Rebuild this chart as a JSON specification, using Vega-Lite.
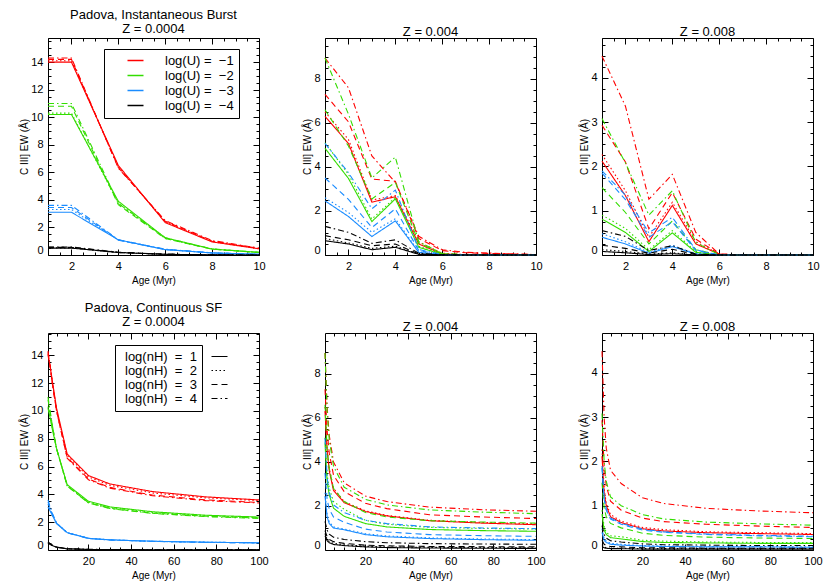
{
  "$schema": "https://vega.github.io/schema/vega-lite/v6.json",
  "background": "white",
  "padding": {"left": 19, "top": 8, "right": 5, "bottom": 5},
  "datasets": {
    "b1": [
      {"U":-1,"nH":1,"age":1,"ew":14.0},{"U":-1,"nH":1,"age":2,"ew":14.0},{"U":-1,"nH":1,"age":4,"ew":6.5},{"U":-1,"nH":1,"age":6,"ew":2.35},{"U":-1,"nH":1,"age":8,"ew":0.95},{"U":-1,"nH":1,"age":10,"ew":0.45},
      {"U":-1,"nH":2,"age":1,"ew":14.1},{"U":-1,"nH":2,"age":2,"ew":14.1},{"U":-1,"nH":2,"age":4,"ew":6.4},{"U":-1,"nH":2,"age":6,"ew":2.4},{"U":-1,"nH":2,"age":8,"ew":1.0},{"U":-1,"nH":2,"age":10,"ew":0.45},
      {"U":-1,"nH":3,"age":1,"ew":14.2},{"U":-1,"nH":3,"age":2,"ew":14.2},{"U":-1,"nH":3,"age":4,"ew":6.35},{"U":-1,"nH":3,"age":6,"ew":2.45},{"U":-1,"nH":3,"age":8,"ew":1.0},{"U":-1,"nH":3,"age":10,"ew":0.48},
      {"U":-1,"nH":4,"age":1,"ew":14.3},{"U":-1,"nH":4,"age":2,"ew":14.3},{"U":-1,"nH":4,"age":4,"ew":6.3},{"U":-1,"nH":4,"age":6,"ew":2.5},{"U":-1,"nH":4,"age":8,"ew":1.05},{"U":-1,"nH":4,"age":10,"ew":0.5},
      {"U":-2,"nH":1,"age":1,"ew":10.2},{"U":-2,"nH":1,"age":2,"ew":10.2},{"U":-2,"nH":1,"age":4,"ew":3.9},{"U":-2,"nH":1,"age":6,"ew":1.25},{"U":-2,"nH":1,"age":8,"ew":0.43},{"U":-2,"nH":1,"age":10,"ew":0.19},
      {"U":-2,"nH":2,"age":1,"ew":10.3},{"U":-2,"nH":2,"age":2,"ew":10.3},{"U":-2,"nH":2,"age":4,"ew":3.75},{"U":-2,"nH":2,"age":6,"ew":1.2},{"U":-2,"nH":2,"age":8,"ew":0.43},{"U":-2,"nH":2,"age":10,"ew":0.18},
      {"U":-2,"nH":3,"age":1,"ew":10.8},{"U":-2,"nH":3,"age":2,"ew":10.8},{"U":-2,"nH":3,"age":4,"ew":3.65},{"U":-2,"nH":3,"age":6,"ew":1.2},{"U":-2,"nH":3,"age":8,"ew":0.42},{"U":-2,"nH":3,"age":10,"ew":0.18},
      {"U":-2,"nH":4,"age":1,"ew":11.0},{"U":-2,"nH":4,"age":2,"ew":11.0},{"U":-2,"nH":4,"age":4,"ew":3.75},{"U":-2,"nH":4,"age":6,"ew":1.25},{"U":-2,"nH":4,"age":8,"ew":0.44},{"U":-2,"nH":4,"age":10,"ew":0.19},
      {"U":-3,"nH":1,"age":1,"ew":3.1},{"U":-3,"nH":1,"age":2,"ew":3.1},{"U":-3,"nH":1,"age":4,"ew":1.1},{"U":-3,"nH":1,"age":6,"ew":0.39},{"U":-3,"nH":1,"age":8,"ew":0.15},{"U":-3,"nH":1,"age":10,"ew":0.05},
      {"U":-3,"nH":2,"age":1,"ew":3.3},{"U":-3,"nH":2,"age":2,"ew":3.3},{"U":-3,"nH":2,"age":4,"ew":1.1},{"U":-3,"nH":2,"age":6,"ew":0.4},{"U":-3,"nH":2,"age":8,"ew":0.15},{"U":-3,"nH":2,"age":10,"ew":0.05},
      {"U":-3,"nH":3,"age":1,"ew":3.45},{"U":-3,"nH":3,"age":2,"ew":3.45},{"U":-3,"nH":3,"age":4,"ew":1.08},{"U":-3,"nH":3,"age":6,"ew":0.4},{"U":-3,"nH":3,"age":8,"ew":0.15},{"U":-3,"nH":3,"age":10,"ew":0.05},
      {"U":-3,"nH":4,"age":1,"ew":3.6},{"U":-3,"nH":4,"age":2,"ew":3.6},{"U":-3,"nH":4,"age":4,"ew":1.1},{"U":-3,"nH":4,"age":6,"ew":0.42},{"U":-3,"nH":4,"age":8,"ew":0.16},{"U":-3,"nH":4,"age":10,"ew":0.05},
      {"U":-4,"nH":1,"age":1,"ew":0.5},{"U":-4,"nH":1,"age":2,"ew":0.5},{"U":-4,"nH":1,"age":4,"ew":0.18},{"U":-4,"nH":1,"age":6,"ew":0.05},{"U":-4,"nH":1,"age":8,"ew":0.01},{"U":-4,"nH":1,"age":10,"ew":0},
      {"U":-4,"nH":2,"age":1,"ew":0.52},{"U":-4,"nH":2,"age":2,"ew":0.52},{"U":-4,"nH":2,"age":4,"ew":0.18},{"U":-4,"nH":2,"age":6,"ew":0.05},{"U":-4,"nH":2,"age":8,"ew":0.01},{"U":-4,"nH":2,"age":10,"ew":0},
      {"U":-4,"nH":3,"age":1,"ew":0.55},{"U":-4,"nH":3,"age":2,"ew":0.55},{"U":-4,"nH":3,"age":4,"ew":0.19},{"U":-4,"nH":3,"age":6,"ew":0.05},{"U":-4,"nH":3,"age":8,"ew":0.01},{"U":-4,"nH":3,"age":10,"ew":0},
      {"U":-4,"nH":4,"age":1,"ew":0.58},{"U":-4,"nH":4,"age":2,"ew":0.58},{"U":-4,"nH":4,"age":4,"ew":0.2},{"U":-4,"nH":4,"age":6,"ew":0.06},{"U":-4,"nH":4,"age":8,"ew":0.01},{"U":-4,"nH":4,"age":10,"ew":0}
    ],
    "b2": [
      {"U":-1,"nH":1,"age":1,"ew":6.3},{"U":-1,"nH":1,"age":2,"ew":5.07},{"U":-1,"nH":1,"age":3,"ew":2.4},{"U":-1,"nH":1,"age":4,"ew":2.65},{"U":-1,"nH":1,"age":5,"ew":0.5},{"U":-1,"nH":1,"age":6,"ew":0.05},{"U":-1,"nH":1,"age":7,"ew":0.01},{"U":-1,"nH":1,"age":10,"ew":0},
      {"U":-1,"nH":2,"age":1,"ew":6.5},{"U":-1,"nH":2,"age":2,"ew":5.25},{"U":-1,"nH":2,"age":3,"ew":2.5},{"U":-1,"nH":2,"age":4,"ew":2.7},{"U":-1,"nH":2,"age":5,"ew":0.6},{"U":-1,"nH":2,"age":6,"ew":0.08},{"U":-1,"nH":2,"age":7,"ew":0.02},{"U":-1,"nH":2,"age":10,"ew":0},
      {"U":-1,"nH":3,"age":1,"ew":7.3},{"U":-1,"nH":3,"age":2,"ew":6.05},{"U":-1,"nH":3,"age":3,"ew":3.45},{"U":-1,"nH":3,"age":4,"ew":3.35},{"U":-1,"nH":3,"age":5,"ew":0.75},{"U":-1,"nH":3,"age":6,"ew":0.2},{"U":-1,"nH":3,"age":7,"ew":0.1},{"U":-1,"nH":3,"age":10,"ew":0.02},
      {"U":-1,"nH":4,"age":1,"ew":8.95},{"U":-1,"nH":4,"age":2,"ew":7.6},{"U":-1,"nH":4,"age":3,"ew":4.5},{"U":-1,"nH":4,"age":4,"ew":3.3},{"U":-1,"nH":4,"age":5,"ew":0.85},{"U":-1,"nH":4,"age":6,"ew":0.24},{"U":-1,"nH":4,"age":7,"ew":0.12},{"U":-1,"nH":4,"age":10,"ew":0.02},
      {"U":-2,"nH":1,"age":1,"ew":4.85},{"U":-2,"nH":1,"age":2,"ew":3.48},{"U":-2,"nH":1,"age":3,"ew":1.52},{"U":-2,"nH":1,"age":4,"ew":2.55},{"U":-2,"nH":1,"age":5,"ew":0.35},{"U":-2,"nH":1,"age":6,"ew":0.03},{"U":-2,"nH":1,"age":7,"ew":0},{"U":-2,"nH":1,"age":10,"ew":0},
      {"U":-2,"nH":2,"age":1,"ew":5.1},{"U":-2,"nH":2,"age":2,"ew":3.67},{"U":-2,"nH":2,"age":3,"ew":1.63},{"U":-2,"nH":2,"age":4,"ew":2.62},{"U":-2,"nH":2,"age":5,"ew":0.4},{"U":-2,"nH":2,"age":6,"ew":0.04},{"U":-2,"nH":2,"age":7,"ew":0},{"U":-2,"nH":2,"age":10,"ew":0},
      {"U":-2,"nH":3,"age":1,"ew":6.6},{"U":-2,"nH":3,"age":2,"ew":4.95},{"U":-2,"nH":3,"age":3,"ew":2.55},{"U":-2,"nH":3,"age":4,"ew":3.3},{"U":-2,"nH":3,"age":5,"ew":0.55},{"U":-2,"nH":3,"age":6,"ew":0.06},{"U":-2,"nH":3,"age":7,"ew":0.01},{"U":-2,"nH":3,"age":10,"ew":0},
      {"U":-2,"nH":4,"age":1,"ew":8.95},{"U":-2,"nH":4,"age":2,"ew":6.4},{"U":-2,"nH":4,"age":3,"ew":3.5},{"U":-2,"nH":4,"age":4,"ew":4.45},{"U":-2,"nH":4,"age":5,"ew":0.6},{"U":-2,"nH":4,"age":6,"ew":0.07},{"U":-2,"nH":4,"age":7,"ew":0.01},{"U":-2,"nH":4,"age":10,"ew":0},
      {"U":-3,"nH":1,"age":1,"ew":2.46},{"U":-3,"nH":1,"age":2,"ew":1.75},{"U":-3,"nH":1,"age":3,"ew":0.84},{"U":-3,"nH":1,"age":4,"ew":1.55},{"U":-3,"nH":1,"age":5,"ew":0.12},{"U":-3,"nH":1,"age":6,"ew":0},{"U":-3,"nH":1,"age":7,"ew":0},{"U":-3,"nH":1,"age":10,"ew":0},
      {"U":-3,"nH":2,"age":1,"ew":2.6},{"U":-3,"nH":2,"age":2,"ew":1.93},{"U":-3,"nH":2,"age":3,"ew":1.03},{"U":-3,"nH":2,"age":4,"ew":1.65},{"U":-3,"nH":2,"age":5,"ew":0.15},{"U":-3,"nH":2,"age":6,"ew":0.01},{"U":-3,"nH":2,"age":7,"ew":0},{"U":-3,"nH":2,"age":10,"ew":0},
      {"U":-3,"nH":3,"age":1,"ew":3.5},{"U":-3,"nH":3,"age":2,"ew":2.53},{"U":-3,"nH":3,"age":3,"ew":1.25},{"U":-3,"nH":3,"age":4,"ew":2.1},{"U":-3,"nH":3,"age":5,"ew":0.2},{"U":-3,"nH":3,"age":6,"ew":0.01},{"U":-3,"nH":3,"age":7,"ew":0},{"U":-3,"nH":3,"age":10,"ew":0},
      {"U":-3,"nH":4,"age":1,"ew":5.07},{"U":-3,"nH":4,"age":2,"ew":3.74},{"U":-3,"nH":4,"age":3,"ew":2.1},{"U":-3,"nH":4,"age":4,"ew":2.95},{"U":-3,"nH":4,"age":5,"ew":0.25},{"U":-3,"nH":4,"age":6,"ew":0.02},{"U":-3,"nH":4,"age":7,"ew":0},{"U":-3,"nH":4,"age":10,"ew":0},
      {"U":-4,"nH":1,"age":1,"ew":0.65},{"U":-4,"nH":1,"age":2,"ew":0.5},{"U":-4,"nH":1,"age":3,"ew":0.24},{"U":-4,"nH":1,"age":4,"ew":0.35},{"U":-4,"nH":1,"age":5,"ew":0.03},{"U":-4,"nH":1,"age":6,"ew":0},{"U":-4,"nH":1,"age":7,"ew":0},{"U":-4,"nH":1,"age":10,"ew":0},
      {"U":-4,"nH":2,"age":1,"ew":0.75},{"U":-4,"nH":2,"age":2,"ew":0.55},{"U":-4,"nH":2,"age":3,"ew":0.3},{"U":-4,"nH":2,"age":4,"ew":0.4},{"U":-4,"nH":2,"age":5,"ew":0.04},{"U":-4,"nH":2,"age":6,"ew":0},{"U":-4,"nH":2,"age":7,"ew":0},{"U":-4,"nH":2,"age":10,"ew":0},
      {"U":-4,"nH":3,"age":1,"ew":0.88},{"U":-4,"nH":3,"age":2,"ew":0.69},{"U":-4,"nH":3,"age":3,"ew":0.42},{"U":-4,"nH":3,"age":4,"ew":0.5},{"U":-4,"nH":3,"age":5,"ew":0.05},{"U":-4,"nH":3,"age":6,"ew":0},{"U":-4,"nH":3,"age":7,"ew":0},{"U":-4,"nH":3,"age":10,"ew":0},
      {"U":-4,"nH":4,"age":1,"ew":1.3},{"U":-4,"nH":4,"age":2,"ew":1.03},{"U":-4,"nH":4,"age":3,"ew":0.53},{"U":-4,"nH":4,"age":4,"ew":0.69},{"U":-4,"nH":4,"age":5,"ew":0.08},{"U":-4,"nH":4,"age":6,"ew":0.01},{"U":-4,"nH":4,"age":7,"ew":0},{"U":-4,"nH":4,"age":10,"ew":0}
    ],
    "b3": [
      {"U":-1,"nH":1,"age":1,"ew":2.12},{"U":-1,"nH":1,"age":2,"ew":1.34},{"U":-1,"nH":1,"age":3,"ew":0.3},{"U":-1,"nH":1,"age":4,"ew":1.12},{"U":-1,"nH":1,"age":5,"ew":0.25},{"U":-1,"nH":1,"age":6,"ew":0.02},{"U":-1,"nH":1,"age":7,"ew":0},{"U":-1,"nH":1,"age":10,"ew":0},
      {"U":-1,"nH":2,"age":1,"ew":2.27},{"U":-1,"nH":2,"age":2,"ew":1.45},{"U":-1,"nH":2,"age":3,"ew":0.4},{"U":-1,"nH":2,"age":4,"ew":1.19},{"U":-1,"nH":2,"age":5,"ew":0.3},{"U":-1,"nH":2,"age":6,"ew":0.02},{"U":-1,"nH":2,"age":7,"ew":0},{"U":-1,"nH":2,"age":10,"ew":0},
      {"U":-1,"nH":3,"age":1,"ew":2.93},{"U":-1,"nH":3,"age":2,"ew":2.1},{"U":-1,"nH":3,"age":3,"ew":0.59},{"U":-1,"nH":3,"age":4,"ew":1.41},{"U":-1,"nH":3,"age":5,"ew":0.36},{"U":-1,"nH":3,"age":6,"ew":0.02},{"U":-1,"nH":3,"age":7,"ew":0},{"U":-1,"nH":3,"age":10,"ew":0},
      {"U":-1,"nH":4,"age":1,"ew":4.49},{"U":-1,"nH":4,"age":2,"ew":3.36},{"U":-1,"nH":4,"age":3,"ew":1.26},{"U":-1,"nH":4,"age":4,"ew":1.82},{"U":-1,"nH":4,"age":5,"ew":0.51},{"U":-1,"nH":4,"age":6,"ew":0.02},{"U":-1,"nH":4,"age":7,"ew":0},{"U":-1,"nH":4,"age":10,"ew":0},
      {"U":-2,"nH":1,"age":1,"ew":0.81},{"U":-2,"nH":1,"age":2,"ew":0.51},{"U":-2,"nH":1,"age":3,"ew":0.08},{"U":-2,"nH":1,"age":4,"ew":0.5},{"U":-2,"nH":1,"age":5,"ew":0.06},{"U":-2,"nH":1,"age":6,"ew":0},{"U":-2,"nH":1,"age":7,"ew":0},{"U":-2,"nH":1,"age":10,"ew":0},
      {"U":-2,"nH":2,"age":1,"ew":0.9},{"U":-2,"nH":2,"age":2,"ew":0.6},{"U":-2,"nH":2,"age":3,"ew":0.12},{"U":-2,"nH":2,"age":4,"ew":0.55},{"U":-2,"nH":2,"age":5,"ew":0.08},{"U":-2,"nH":2,"age":6,"ew":0},{"U":-2,"nH":2,"age":7,"ew":0},{"U":-2,"nH":2,"age":10,"ew":0},
      {"U":-2,"nH":3,"age":1,"ew":1.52},{"U":-2,"nH":3,"age":2,"ew":0.96},{"U":-2,"nH":3,"age":3,"ew":0.25},{"U":-2,"nH":3,"age":4,"ew":0.77},{"U":-2,"nH":3,"age":5,"ew":0.12},{"U":-2,"nH":3,"age":6,"ew":0},{"U":-2,"nH":3,"age":7,"ew":0},{"U":-2,"nH":3,"age":10,"ew":0},
      {"U":-2,"nH":4,"age":1,"ew":3.08},{"U":-2,"nH":4,"age":2,"ew":2.08},{"U":-2,"nH":4,"age":3,"ew":0.9},{"U":-2,"nH":4,"age":4,"ew":1.45},{"U":-2,"nH":4,"age":5,"ew":0.28},{"U":-2,"nH":4,"age":6,"ew":0.01},{"U":-2,"nH":4,"age":7,"ew":0},{"U":-2,"nH":4,"age":10,"ew":0},
      {"U":-3,"nH":1,"age":1,"ew":0.4},{"U":-3,"nH":1,"age":2,"ew":0.25},{"U":-3,"nH":1,"age":3,"ew":0.04},{"U":-3,"nH":1,"age":4,"ew":0.19},{"U":-3,"nH":1,"age":5,"ew":0.02},{"U":-3,"nH":1,"age":6,"ew":0},{"U":-3,"nH":1,"age":7,"ew":0},{"U":-3,"nH":1,"age":10,"ew":0},
      {"U":-3,"nH":2,"age":1,"ew":0.48},{"U":-3,"nH":2,"age":2,"ew":0.3},{"U":-3,"nH":2,"age":3,"ew":0.06},{"U":-3,"nH":2,"age":4,"ew":0.22},{"U":-3,"nH":2,"age":5,"ew":0.03},{"U":-3,"nH":2,"age":6,"ew":0},{"U":-3,"nH":2,"age":7,"ew":0},{"U":-3,"nH":2,"age":10,"ew":0},
      {"U":-3,"nH":3,"age":1,"ew":1.85},{"U":-3,"nH":3,"age":2,"ew":1.25},{"U":-3,"nH":3,"age":3,"ew":0.4},{"U":-3,"nH":3,"age":4,"ew":0.75},{"U":-3,"nH":3,"age":5,"ew":0.1},{"U":-3,"nH":3,"age":6,"ew":0},{"U":-3,"nH":3,"age":7,"ew":0},{"U":-3,"nH":3,"age":10,"ew":0},
      {"U":-3,"nH":4,"age":1,"ew":1.9},{"U":-3,"nH":4,"age":2,"ew":1.35},{"U":-3,"nH":4,"age":3,"ew":0.5},{"U":-3,"nH":4,"age":4,"ew":0.85},{"U":-3,"nH":4,"age":5,"ew":0.12},{"U":-3,"nH":4,"age":6,"ew":0},{"U":-3,"nH":4,"age":7,"ew":0},{"U":-3,"nH":4,"age":10,"ew":0},
      {"U":-4,"nH":1,"age":1,"ew":0.08},{"U":-4,"nH":1,"age":2,"ew":0.05},{"U":-4,"nH":1,"age":3,"ew":0.01},{"U":-4,"nH":1,"age":4,"ew":0.03},{"U":-4,"nH":1,"age":5,"ew":0},{"U":-4,"nH":1,"age":6,"ew":0},{"U":-4,"nH":1,"age":7,"ew":0},{"U":-4,"nH":1,"age":10,"ew":0},
      {"U":-4,"nH":2,"age":1,"ew":0.12},{"U":-4,"nH":2,"age":2,"ew":0.08},{"U":-4,"nH":2,"age":3,"ew":0.02},{"U":-4,"nH":2,"age":4,"ew":0.05},{"U":-4,"nH":2,"age":5,"ew":0},{"U":-4,"nH":2,"age":6,"ew":0},{"U":-4,"nH":2,"age":7,"ew":0},{"U":-4,"nH":2,"age":10,"ew":0},
      {"U":-4,"nH":3,"age":1,"ew":0.22},{"U":-4,"nH":3,"age":2,"ew":0.15},{"U":-4,"nH":3,"age":3,"ew":0.04},{"U":-4,"nH":3,"age":4,"ew":0.13},{"U":-4,"nH":3,"age":5,"ew":0.01},{"U":-4,"nH":3,"age":6,"ew":0},{"U":-4,"nH":3,"age":7,"ew":0},{"U":-4,"nH":3,"age":10,"ew":0},
      {"U":-4,"nH":4,"age":1,"ew":0.55},{"U":-4,"nH":4,"age":2,"ew":0.42},{"U":-4,"nH":4,"age":3,"ew":0.1},{"U":-4,"nH":4,"age":4,"ew":0.21},{"U":-4,"nH":4,"age":5,"ew":0.02},{"U":-4,"nH":4,"age":6,"ew":0},{"U":-4,"nH":4,"age":7,"ew":0},{"U":-4,"nH":4,"age":10,"ew":0}
    ],
    "c1": [
      {"U":-1,"nH":1,"age":1,"ew":14.0},{"U":-1,"nH":1,"age":2,"ew":13.2},{"U":-1,"nH":1,"age":3,"ew":12.2},{"U":-1,"nH":1,"age":5,"ew":10.2},{"U":-1,"nH":1,"age":10,"ew":6.9},{"U":-1,"nH":1,"age":20,"ew":5.35},{"U":-1,"nH":1,"age":30,"ew":4.75},{"U":-1,"nH":1,"age":50,"ew":4.2},{"U":-1,"nH":1,"age":75,"ew":3.82},{"U":-1,"nH":1,"age":100,"ew":3.6},
      {"U":-1,"nH":2,"age":1,"ew":14.1},{"U":-1,"nH":2,"age":2,"ew":13.2},{"U":-1,"nH":2,"age":3,"ew":12.1},{"U":-1,"nH":2,"age":5,"ew":10.1},{"U":-1,"nH":2,"age":10,"ew":6.8},{"U":-1,"nH":2,"age":20,"ew":5.25},{"U":-1,"nH":2,"age":30,"ew":4.65},{"U":-1,"nH":2,"age":50,"ew":4.1},{"U":-1,"nH":2,"age":75,"ew":3.75},{"U":-1,"nH":2,"age":100,"ew":3.55},
      {"U":-1,"nH":3,"age":1,"ew":14.2},{"U":-1,"nH":3,"age":2,"ew":13.2},{"U":-1,"nH":3,"age":3,"ew":12.0},{"U":-1,"nH":3,"age":5,"ew":10.0},{"U":-1,"nH":3,"age":10,"ew":6.65},{"U":-1,"nH":3,"age":20,"ew":5.1},{"U":-1,"nH":3,"age":30,"ew":4.5},{"U":-1,"nH":3,"age":50,"ew":3.95},{"U":-1,"nH":3,"age":75,"ew":3.6},{"U":-1,"nH":3,"age":100,"ew":3.42},
      {"U":-1,"nH":4,"age":1,"ew":14.3},{"U":-1,"nH":4,"age":2,"ew":13.3},{"U":-1,"nH":4,"age":3,"ew":12.0},{"U":-1,"nH":4,"age":5,"ew":10.0},{"U":-1,"nH":4,"age":10,"ew":6.6},{"U":-1,"nH":4,"age":20,"ew":5.05},{"U":-1,"nH":4,"age":30,"ew":4.45},{"U":-1,"nH":4,"age":50,"ew":3.9},{"U":-1,"nH":4,"age":75,"ew":3.55},{"U":-1,"nH":4,"age":100,"ew":3.38},
      {"U":-2,"nH":1,"age":1,"ew":10.2},{"U":-2,"nH":1,"age":2,"ew":9.5},{"U":-2,"nH":1,"age":3,"ew":8.7},{"U":-2,"nH":1,"age":5,"ew":7.3},{"U":-2,"nH":1,"age":10,"ew":4.7},{"U":-2,"nH":1,"age":20,"ew":3.5},{"U":-2,"nH":1,"age":30,"ew":3.1},{"U":-2,"nH":1,"age":50,"ew":2.75},{"U":-2,"nH":1,"age":75,"ew":2.5},{"U":-2,"nH":1,"age":100,"ew":2.37},
      {"U":-2,"nH":2,"age":1,"ew":10.3},{"U":-2,"nH":2,"age":2,"ew":9.6},{"U":-2,"nH":2,"age":3,"ew":8.8},{"U":-2,"nH":2,"age":5,"ew":7.3},{"U":-2,"nH":2,"age":10,"ew":4.65},{"U":-2,"nH":2,"age":20,"ew":3.45},{"U":-2,"nH":2,"age":30,"ew":3.05},{"U":-2,"nH":2,"age":50,"ew":2.7},{"U":-2,"nH":2,"age":75,"ew":2.47},{"U":-2,"nH":2,"age":100,"ew":2.33},
      {"U":-2,"nH":3,"age":1,"ew":10.8},{"U":-2,"nH":3,"age":2,"ew":9.9},{"U":-2,"nH":3,"age":3,"ew":9.0},{"U":-2,"nH":3,"age":5,"ew":7.3},{"U":-2,"nH":3,"age":10,"ew":4.6},{"U":-2,"nH":3,"age":20,"ew":3.4},{"U":-2,"nH":3,"age":30,"ew":3.0},{"U":-2,"nH":3,"age":50,"ew":2.65},{"U":-2,"nH":3,"age":75,"ew":2.43},{"U":-2,"nH":3,"age":100,"ew":2.3},
      {"U":-2,"nH":4,"age":1,"ew":11.0},{"U":-2,"nH":4,"age":2,"ew":10.0},{"U":-2,"nH":4,"age":3,"ew":9.0},{"U":-2,"nH":4,"age":5,"ew":7.3},{"U":-2,"nH":4,"age":10,"ew":4.6},{"U":-2,"nH":4,"age":20,"ew":3.38},{"U":-2,"nH":4,"age":30,"ew":2.98},{"U":-2,"nH":4,"age":50,"ew":2.63},{"U":-2,"nH":4,"age":75,"ew":2.4},{"U":-2,"nH":4,"age":100,"ew":2.27},
      {"U":-3,"nH":1,"age":1,"ew":3.1},{"U":-3,"nH":1,"age":2,"ew":2.8},{"U":-3,"nH":1,"age":3,"ew":2.5},{"U":-3,"nH":1,"age":5,"ew":1.9},{"U":-3,"nH":1,"age":10,"ew":1.25},{"U":-3,"nH":1,"age":20,"ew":0.84},{"U":-3,"nH":1,"age":30,"ew":0.73},{"U":-3,"nH":1,"age":50,"ew":0.63},{"U":-3,"nH":1,"age":75,"ew":0.56},{"U":-3,"nH":1,"age":100,"ew":0.52},
      {"U":-3,"nH":2,"age":1,"ew":3.3},{"U":-3,"nH":2,"age":2,"ew":2.9},{"U":-3,"nH":2,"age":3,"ew":2.55},{"U":-3,"nH":2,"age":5,"ew":1.92},{"U":-3,"nH":2,"age":10,"ew":1.25},{"U":-3,"nH":2,"age":20,"ew":0.84},{"U":-3,"nH":2,"age":30,"ew":0.73},{"U":-3,"nH":2,"age":50,"ew":0.63},{"U":-3,"nH":2,"age":75,"ew":0.56},{"U":-3,"nH":2,"age":100,"ew":0.52},
      {"U":-3,"nH":3,"age":1,"ew":3.45},{"U":-3,"nH":3,"age":2,"ew":3.0},{"U":-3,"nH":3,"age":3,"ew":2.6},{"U":-3,"nH":3,"age":5,"ew":1.93},{"U":-3,"nH":3,"age":10,"ew":1.24},{"U":-3,"nH":3,"age":20,"ew":0.83},{"U":-3,"nH":3,"age":30,"ew":0.72},{"U":-3,"nH":3,"age":50,"ew":0.62},{"U":-3,"nH":3,"age":75,"ew":0.55},{"U":-3,"nH":3,"age":100,"ew":0.51},
      {"U":-3,"nH":4,"age":1,"ew":3.6},{"U":-3,"nH":4,"age":2,"ew":3.1},{"U":-3,"nH":4,"age":3,"ew":2.65},{"U":-3,"nH":4,"age":5,"ew":1.95},{"U":-3,"nH":4,"age":10,"ew":1.24},{"U":-3,"nH":4,"age":20,"ew":0.83},{"U":-3,"nH":4,"age":30,"ew":0.72},{"U":-3,"nH":4,"age":50,"ew":0.62},{"U":-3,"nH":4,"age":75,"ew":0.55},{"U":-3,"nH":4,"age":100,"ew":0.51},
      {"U":-4,"nH":1,"age":1,"ew":0.5},{"U":-4,"nH":1,"age":2,"ew":0.4},{"U":-4,"nH":1,"age":3,"ew":0.32},{"U":-4,"nH":1,"age":5,"ew":0.2},{"U":-4,"nH":1,"age":10,"ew":0.08},{"U":-4,"nH":1,"age":20,"ew":0.04},{"U":-4,"nH":1,"age":30,"ew":0.03},{"U":-4,"nH":1,"age":50,"ew":0.02},{"U":-4,"nH":1,"age":75,"ew":0.02},{"U":-4,"nH":1,"age":100,"ew":0.02},
      {"U":-4,"nH":2,"age":1,"ew":0.52},{"U":-4,"nH":2,"age":2,"ew":0.41},{"U":-4,"nH":2,"age":3,"ew":0.33},{"U":-4,"nH":2,"age":5,"ew":0.2},{"U":-4,"nH":2,"age":10,"ew":0.08},{"U":-4,"nH":2,"age":20,"ew":0.04},{"U":-4,"nH":2,"age":30,"ew":0.03},{"U":-4,"nH":2,"age":50,"ew":0.02},{"U":-4,"nH":2,"age":75,"ew":0.02},{"U":-4,"nH":2,"age":100,"ew":0.02},
      {"U":-4,"nH":3,"age":1,"ew":0.55},{"U":-4,"nH":3,"age":2,"ew":0.43},{"U":-4,"nH":3,"age":3,"ew":0.34},{"U":-4,"nH":3,"age":5,"ew":0.21},{"U":-4,"nH":3,"age":10,"ew":0.09},{"U":-4,"nH":3,"age":20,"ew":0.04},{"U":-4,"nH":3,"age":30,"ew":0.03},{"U":-4,"nH":3,"age":50,"ew":0.02},{"U":-4,"nH":3,"age":75,"ew":0.02},{"U":-4,"nH":3,"age":100,"ew":0.02},
      {"U":-4,"nH":4,"age":1,"ew":0.58},{"U":-4,"nH":4,"age":2,"ew":0.45},{"U":-4,"nH":4,"age":3,"ew":0.35},{"U":-4,"nH":4,"age":5,"ew":0.22},{"U":-4,"nH":4,"age":10,"ew":0.09},{"U":-4,"nH":4,"age":20,"ew":0.05},{"U":-4,"nH":4,"age":30,"ew":0.03},{"U":-4,"nH":4,"age":50,"ew":0.02},{"U":-4,"nH":4,"age":75,"ew":0.02},{"U":-4,"nH":4,"age":100,"ew":0.02}
    ],
    "c2": [
      {"U":-1,"nH":1,"age":1,"ew":6.3},{"U":-1,"nH":1,"age":2,"ew":4.5},{"U":-1,"nH":1,"age":3,"ew":3.6},{"U":-1,"nH":1,"age":5,"ew":2.7},{"U":-1,"nH":1,"age":10,"ew":2.15},{"U":-1,"nH":1,"age":20,"ew":1.75},{"U":-1,"nH":1,"age":30,"ew":1.55},{"U":-1,"nH":1,"age":50,"ew":1.33},{"U":-1,"nH":1,"age":75,"ew":1.22},{"U":-1,"nH":1,"age":100,"ew":1.15},
      {"U":-1,"nH":2,"age":1,"ew":6.5},{"U":-1,"nH":2,"age":2,"ew":4.6},{"U":-1,"nH":2,"age":3,"ew":3.7},{"U":-1,"nH":2,"age":5,"ew":2.8},{"U":-1,"nH":2,"age":10,"ew":2.2},{"U":-1,"nH":2,"age":20,"ew":1.78},{"U":-1,"nH":2,"age":30,"ew":1.57},{"U":-1,"nH":2,"age":50,"ew":1.35},{"U":-1,"nH":2,"age":75,"ew":1.25},{"U":-1,"nH":2,"age":100,"ew":1.19},
      {"U":-1,"nH":3,"age":1,"ew":7.3},{"U":-1,"nH":3,"age":2,"ew":5.4},{"U":-1,"nH":3,"age":3,"ew":4.4},{"U":-1,"nH":3,"age":5,"ew":3.4},{"U":-1,"nH":3,"age":10,"ew":2.65},{"U":-1,"nH":3,"age":20,"ew":2.12},{"U":-1,"nH":3,"age":30,"ew":1.88},{"U":-1,"nH":3,"age":50,"ew":1.6},{"U":-1,"nH":3,"age":75,"ew":1.5},{"U":-1,"nH":3,"age":100,"ew":1.43},
      {"U":-1,"nH":4,"age":1,"ew":8.95},{"U":-1,"nH":4,"age":2,"ew":6.5},{"U":-1,"nH":4,"age":3,"ew":5.2},{"U":-1,"nH":4,"age":5,"ew":4.0},{"U":-1,"nH":4,"age":10,"ew":3.05},{"U":-1,"nH":4,"age":20,"ew":2.45},{"U":-1,"nH":4,"age":30,"ew":2.2},{"U":-1,"nH":4,"age":50,"ew":1.95},{"U":-1,"nH":4,"age":75,"ew":1.83},{"U":-1,"nH":4,"age":100,"ew":1.76},
      {"U":-2,"nH":1,"age":1,"ew":4.85},{"U":-2,"nH":1,"age":2,"ew":3.1},{"U":-2,"nH":1,"age":3,"ew":2.5},{"U":-2,"nH":1,"age":5,"ew":1.9},{"U":-2,"nH":1,"age":10,"ew":1.53},{"U":-2,"nH":1,"age":20,"ew":1.2},{"U":-2,"nH":1,"age":30,"ew":1.05},{"U":-2,"nH":1,"age":50,"ew":0.93},{"U":-2,"nH":1,"age":75,"ew":0.88},{"U":-2,"nH":1,"age":100,"ew":0.85},
      {"U":-2,"nH":2,"age":1,"ew":5.1},{"U":-2,"nH":2,"age":2,"ew":3.4},{"U":-2,"nH":2,"age":3,"ew":2.8},{"U":-2,"nH":2,"age":5,"ew":2.2},{"U":-2,"nH":2,"age":10,"ew":1.85},{"U":-2,"nH":2,"age":20,"ew":1.35},{"U":-2,"nH":2,"age":30,"ew":1.17},{"U":-2,"nH":2,"age":50,"ew":1.03},{"U":-2,"nH":2,"age":75,"ew":0.98},{"U":-2,"nH":2,"age":100,"ew":0.95},
      {"U":-2,"nH":3,"age":1,"ew":6.6},{"U":-2,"nH":3,"age":2,"ew":4.6},{"U":-2,"nH":3,"age":3,"ew":3.7},{"U":-2,"nH":3,"age":5,"ew":2.8},{"U":-2,"nH":3,"age":10,"ew":2.2},{"U":-2,"nH":3,"age":20,"ew":1.7},{"U":-2,"nH":3,"age":30,"ew":1.5},{"U":-2,"nH":3,"age":50,"ew":1.33},{"U":-2,"nH":3,"age":75,"ew":1.27},{"U":-2,"nH":3,"age":100,"ew":1.22},
      {"U":-2,"nH":4,"age":1,"ew":8.95},{"U":-2,"nH":4,"age":2,"ew":6.3},{"U":-2,"nH":4,"age":3,"ew":5.0},{"U":-2,"nH":4,"age":5,"ew":3.8},{"U":-2,"nH":4,"age":10,"ew":2.85},{"U":-2,"nH":4,"age":20,"ew":2.3},{"U":-2,"nH":4,"age":30,"ew":2.05},{"U":-2,"nH":4,"age":50,"ew":1.82},{"U":-2,"nH":4,"age":75,"ew":1.72},{"U":-2,"nH":4,"age":100,"ew":1.65},
      {"U":-3,"nH":1,"age":1,"ew":2.46},{"U":-3,"nH":1,"age":2,"ew":1.5},{"U":-3,"nH":1,"age":3,"ew":1.2},{"U":-3,"nH":1,"age":5,"ew":1.0},{"U":-3,"nH":1,"age":10,"ew":0.92},{"U":-3,"nH":1,"age":20,"ew":0.7},{"U":-3,"nH":1,"age":30,"ew":0.6},{"U":-3,"nH":1,"age":50,"ew":0.52},{"U":-3,"nH":1,"age":75,"ew":0.47},{"U":-3,"nH":1,"age":100,"ew":0.44},
      {"U":-3,"nH":2,"age":1,"ew":2.6},{"U":-3,"nH":2,"age":2,"ew":1.6},{"U":-3,"nH":2,"age":3,"ew":1.28},{"U":-3,"nH":2,"age":5,"ew":1.05},{"U":-3,"nH":2,"age":10,"ew":0.95},{"U":-3,"nH":2,"age":20,"ew":0.74},{"U":-3,"nH":2,"age":30,"ew":0.64},{"U":-3,"nH":2,"age":50,"ew":0.55},{"U":-3,"nH":2,"age":75,"ew":0.5},{"U":-3,"nH":2,"age":100,"ew":0.47},
      {"U":-3,"nH":3,"age":1,"ew":3.5},{"U":-3,"nH":3,"age":2,"ew":2.3},{"U":-3,"nH":3,"age":3,"ew":1.85},{"U":-3,"nH":3,"age":5,"ew":1.5},{"U":-3,"nH":3,"age":10,"ew":1.26},{"U":-3,"nH":3,"age":20,"ew":0.95},{"U":-3,"nH":3,"age":30,"ew":0.82},{"U":-3,"nH":3,"age":50,"ew":0.7},{"U":-3,"nH":3,"age":75,"ew":0.65},{"U":-3,"nH":3,"age":100,"ew":0.62},
      {"U":-3,"nH":4,"age":1,"ew":5.07},{"U":-3,"nH":4,"age":2,"ew":3.3},{"U":-3,"nH":4,"age":3,"ew":2.6},{"U":-3,"nH":4,"age":5,"ew":2.05},{"U":-3,"nH":4,"age":10,"ew":1.7},{"U":-3,"nH":4,"age":20,"ew":1.35},{"U":-3,"nH":4,"age":30,"ew":1.2},{"U":-3,"nH":4,"age":50,"ew":1.05},{"U":-3,"nH":4,"age":75,"ew":1.0},{"U":-3,"nH":4,"age":100,"ew":0.97},
      {"U":-4,"nH":1,"age":1,"ew":0.65},{"U":-4,"nH":1,"age":2,"ew":0.42},{"U":-4,"nH":1,"age":3,"ew":0.33},{"U":-4,"nH":1,"age":5,"ew":0.25},{"U":-4,"nH":1,"age":10,"ew":0.2},{"U":-4,"nH":1,"age":20,"ew":0.14},{"U":-4,"nH":1,"age":30,"ew":0.11},{"U":-4,"nH":1,"age":50,"ew":0.09},{"U":-4,"nH":1,"age":75,"ew":0.08},{"U":-4,"nH":1,"age":100,"ew":0.07},
      {"U":-4,"nH":2,"age":1,"ew":0.75},{"U":-4,"nH":2,"age":2,"ew":0.48},{"U":-4,"nH":2,"age":3,"ew":0.38},{"U":-4,"nH":2,"age":5,"ew":0.3},{"U":-4,"nH":2,"age":10,"ew":0.24},{"U":-4,"nH":2,"age":20,"ew":0.17},{"U":-4,"nH":2,"age":30,"ew":0.14},{"U":-4,"nH":2,"age":50,"ew":0.12},{"U":-4,"nH":2,"age":75,"ew":0.11},{"U":-4,"nH":2,"age":100,"ew":0.1},
      {"U":-4,"nH":3,"age":1,"ew":0.88},{"U":-4,"nH":3,"age":2,"ew":0.6},{"U":-4,"nH":3,"age":3,"ew":0.48},{"U":-4,"nH":3,"age":5,"ew":0.38},{"U":-4,"nH":3,"age":10,"ew":0.3},{"U":-4,"nH":3,"age":20,"ew":0.22},{"U":-4,"nH":3,"age":30,"ew":0.19},{"U":-4,"nH":3,"age":50,"ew":0.16},{"U":-4,"nH":3,"age":75,"ew":0.15},{"U":-4,"nH":3,"age":100,"ew":0.14},
      {"U":-4,"nH":4,"age":1,"ew":1.3},{"U":-4,"nH":4,"age":2,"ew":0.9},{"U":-4,"nH":4,"age":3,"ew":0.72},{"U":-4,"nH":4,"age":5,"ew":0.58},{"U":-4,"nH":4,"age":10,"ew":0.48},{"U":-4,"nH":4,"age":20,"ew":0.38},{"U":-4,"nH":4,"age":30,"ew":0.33},{"U":-4,"nH":4,"age":50,"ew":0.29},{"U":-4,"nH":4,"age":75,"ew":0.27},{"U":-4,"nH":4,"age":100,"ew":0.26}
    ],
    "c3": [
      {"U":-1,"nH":1,"age":1,"ew":2.12},{"U":-1,"nH":1,"age":2,"ew":1.3},{"U":-1,"nH":1,"age":3,"ew":1.0},{"U":-1,"nH":1,"age":5,"ew":0.75},{"U":-1,"nH":1,"age":10,"ew":0.62},{"U":-1,"nH":1,"age":20,"ew":0.48},{"U":-1,"nH":1,"age":30,"ew":0.43},{"U":-1,"nH":1,"age":50,"ew":0.39},{"U":-1,"nH":1,"age":75,"ew":0.37},{"U":-1,"nH":1,"age":100,"ew":0.35},
      {"U":-1,"nH":2,"age":1,"ew":2.27},{"U":-1,"nH":2,"age":2,"ew":1.4},{"U":-1,"nH":2,"age":3,"ew":1.05},{"U":-1,"nH":2,"age":5,"ew":0.8},{"U":-1,"nH":2,"age":10,"ew":0.65},{"U":-1,"nH":2,"age":20,"ew":0.51},{"U":-1,"nH":2,"age":30,"ew":0.46},{"U":-1,"nH":2,"age":50,"ew":0.41},{"U":-1,"nH":2,"age":75,"ew":0.39},{"U":-1,"nH":2,"age":100,"ew":0.37},
      {"U":-1,"nH":3,"age":1,"ew":2.93},{"U":-1,"nH":3,"age":2,"ew":1.9},{"U":-1,"nH":3,"age":3,"ew":1.45},{"U":-1,"nH":3,"age":5,"ew":1.1},{"U":-1,"nH":3,"age":10,"ew":0.9},{"U":-1,"nH":3,"age":20,"ew":0.72},{"U":-1,"nH":3,"age":30,"ew":0.64},{"U":-1,"nH":3,"age":50,"ew":0.58},{"U":-1,"nH":3,"age":75,"ew":0.54},{"U":-1,"nH":3,"age":100,"ew":0.51},
      {"U":-1,"nH":4,"age":1,"ew":4.49},{"U":-1,"nH":4,"age":2,"ew":3.0},{"U":-1,"nH":4,"age":3,"ew":2.3},{"U":-1,"nH":4,"age":5,"ew":1.8},{"U":-1,"nH":4,"age":10,"ew":1.5},{"U":-1,"nH":4,"age":20,"ew":1.18},{"U":-1,"nH":4,"age":30,"ew":1.05},{"U":-1,"nH":4,"age":50,"ew":0.94},{"U":-1,"nH":4,"age":75,"ew":0.88},{"U":-1,"nH":4,"age":100,"ew":0.84},
      {"U":-2,"nH":1,"age":1,"ew":0.81},{"U":-2,"nH":1,"age":2,"ew":0.45},{"U":-2,"nH":1,"age":3,"ew":0.35},{"U":-2,"nH":1,"age":5,"ew":0.28},{"U":-2,"nH":1,"age":10,"ew":0.25},{"U":-2,"nH":1,"age":20,"ew":0.19},{"U":-2,"nH":1,"age":30,"ew":0.17},{"U":-2,"nH":1,"age":50,"ew":0.16},{"U":-2,"nH":1,"age":75,"ew":0.15},{"U":-2,"nH":1,"age":100,"ew":0.15},
      {"U":-2,"nH":2,"age":1,"ew":0.9},{"U":-2,"nH":2,"age":2,"ew":0.52},{"U":-2,"nH":2,"age":3,"ew":0.4},{"U":-2,"nH":2,"age":5,"ew":0.32},{"U":-2,"nH":2,"age":10,"ew":0.3},{"U":-2,"nH":2,"age":20,"ew":0.22},{"U":-2,"nH":2,"age":30,"ew":0.2},{"U":-2,"nH":2,"age":50,"ew":0.18},{"U":-2,"nH":2,"age":75,"ew":0.17},{"U":-2,"nH":2,"age":100,"ew":0.17},
      {"U":-2,"nH":3,"age":1,"ew":1.52},{"U":-2,"nH":3,"age":2,"ew":0.95},{"U":-2,"nH":3,"age":3,"ew":0.75},{"U":-2,"nH":3,"age":5,"ew":0.6},{"U":-2,"nH":3,"age":10,"ew":0.5},{"U":-2,"nH":3,"age":20,"ew":0.38},{"U":-2,"nH":3,"age":30,"ew":0.33},{"U":-2,"nH":3,"age":50,"ew":0.29},{"U":-2,"nH":3,"age":75,"ew":0.27},{"U":-2,"nH":3,"age":100,"ew":0.26},
      {"U":-2,"nH":4,"age":1,"ew":3.08},{"U":-2,"nH":4,"age":2,"ew":2.0},{"U":-2,"nH":4,"age":3,"ew":1.55},{"U":-2,"nH":4,"age":5,"ew":1.2},{"U":-2,"nH":4,"age":10,"ew":1.0},{"U":-2,"nH":4,"age":20,"ew":0.8},{"U":-2,"nH":4,"age":30,"ew":0.7},{"U":-2,"nH":4,"age":50,"ew":0.63},{"U":-2,"nH":4,"age":75,"ew":0.59},{"U":-2,"nH":4,"age":100,"ew":0.56},
      {"U":-3,"nH":1,"age":1,"ew":0.4},{"U":-3,"nH":1,"age":2,"ew":0.22},{"U":-3,"nH":1,"age":3,"ew":0.17},{"U":-3,"nH":1,"age":5,"ew":0.13},{"U":-3,"nH":1,"age":10,"ew":0.11},{"U":-3,"nH":1,"age":20,"ew":0.09},{"U":-3,"nH":1,"age":30,"ew":0.08},{"U":-3,"nH":1,"age":50,"ew":0.07},{"U":-3,"nH":1,"age":75,"ew":0.07},{"U":-3,"nH":1,"age":100,"ew":0.06},
      {"U":-3,"nH":2,"age":1,"ew":0.48},{"U":-3,"nH":2,"age":2,"ew":0.26},{"U":-3,"nH":2,"age":3,"ew":0.2},{"U":-3,"nH":2,"age":5,"ew":0.15},{"U":-3,"nH":2,"age":10,"ew":0.13},{"U":-3,"nH":2,"age":20,"ew":0.1},{"U":-3,"nH":2,"age":30,"ew":0.09},{"U":-3,"nH":2,"age":50,"ew":0.08},{"U":-3,"nH":2,"age":75,"ew":0.08},{"U":-3,"nH":2,"age":100,"ew":0.07},
      {"U":-3,"nH":3,"age":1,"ew":1.85},{"U":-3,"nH":3,"age":2,"ew":1.15},{"U":-3,"nH":3,"age":3,"ew":0.9},{"U":-3,"nH":3,"age":5,"ew":0.7},{"U":-3,"nH":3,"age":10,"ew":0.58},{"U":-3,"nH":3,"age":20,"ew":0.45},{"U":-3,"nH":3,"age":30,"ew":0.4},{"U":-3,"nH":3,"age":50,"ew":0.35},{"U":-3,"nH":3,"age":75,"ew":0.32},{"U":-3,"nH":3,"age":100,"ew":0.3},
      {"U":-3,"nH":4,"age":1,"ew":1.9},{"U":-3,"nH":4,"age":2,"ew":1.2},{"U":-3,"nH":4,"age":3,"ew":0.92},{"U":-3,"nH":4,"age":5,"ew":0.72},{"U":-3,"nH":4,"age":10,"ew":0.6},{"U":-3,"nH":4,"age":20,"ew":0.47},{"U":-3,"nH":4,"age":30,"ew":0.41},{"U":-3,"nH":4,"age":50,"ew":0.36},{"U":-3,"nH":4,"age":75,"ew":0.33},{"U":-3,"nH":4,"age":100,"ew":0.31},
      {"U":-4,"nH":1,"age":1,"ew":0.08},{"U":-4,"nH":1,"age":2,"ew":0.05},{"U":-4,"nH":1,"age":3,"ew":0.04},{"U":-4,"nH":1,"age":5,"ew":0.03},{"U":-4,"nH":1,"age":10,"ew":0.03},{"U":-4,"nH":1,"age":20,"ew":0.02},{"U":-4,"nH":1,"age":30,"ew":0.02},{"U":-4,"nH":1,"age":50,"ew":0.02},{"U":-4,"nH":1,"age":75,"ew":0.02},{"U":-4,"nH":1,"age":100,"ew":0.02},
      {"U":-4,"nH":2,"age":1,"ew":0.12},{"U":-4,"nH":2,"age":2,"ew":0.07},{"U":-4,"nH":2,"age":3,"ew":0.05},{"U":-4,"nH":2,"age":5,"ew":0.04},{"U":-4,"nH":2,"age":10,"ew":0.04},{"U":-4,"nH":2,"age":20,"ew":0.03},{"U":-4,"nH":2,"age":30,"ew":0.03},{"U":-4,"nH":2,"age":50,"ew":0.03},{"U":-4,"nH":2,"age":75,"ew":0.03},{"U":-4,"nH":2,"age":100,"ew":0.03},
      {"U":-4,"nH":3,"age":1,"ew":0.22},{"U":-4,"nH":3,"age":2,"ew":0.13},{"U":-4,"nH":3,"age":3,"ew":0.1},{"U":-4,"nH":3,"age":5,"ew":0.08},{"U":-4,"nH":3,"age":10,"ew":0.07},{"U":-4,"nH":3,"age":20,"ew":0.05},{"U":-4,"nH":3,"age":30,"ew":0.05},{"U":-4,"nH":3,"age":50,"ew":0.04},{"U":-4,"nH":3,"age":75,"ew":0.04},{"U":-4,"nH":3,"age":100,"ew":0.04},
      {"U":-4,"nH":4,"age":1,"ew":0.55},{"U":-4,"nH":4,"age":2,"ew":0.35},{"U":-4,"nH":4,"age":3,"ew":0.27},{"U":-4,"nH":4,"age":5,"ew":0.21},{"U":-4,"nH":4,"age":10,"ew":0.18},{"U":-4,"nH":4,"age":20,"ew":0.14},{"U":-4,"nH":4,"age":30,"ew":0.12},{"U":-4,"nH":4,"age":50,"ew":0.11},{"U":-4,"nH":4,"age":75,"ew":0.1},{"U":-4,"nH":4,"age":100,"ew":0.1}
    ]
  },
  "columns": 3,
  "spacing": {"row": 78, "column": 66},
  "bounds": "flush",
  "resolve": {"scale": {"color": "independent", "strokeDash": "independent", "shape": "independent"}},
  "concat": [
    {
      "width": 211, "height": 217,
      "title": {"text": ["Padova, Instantaneous Burst", "Z = 0.0004"]},
      "data": {"name": "b1"},
      "layer": [
        {
          "mark": {"type": "line", "strokeWidth": 1.1},
          "encoding": {
            "x": {"field": "age", "type": "quantitative", "scale": {"domain": [1, 10], "nice": false, "zero": false},
              "axis": {"orient": "bottom", "title": "Age (Myr)", "values": [1,1.5,2,2.5,3,3.5,4,4.5,5,5.5,6,6.5,7,7.5,8,8.5,9,9.5,10], "labelExpr": "datum.value % 2 === 0 ? format(datum.value, 'd') : ''", "tickSize": {"condition": {"test": "datum.value % 2 === 0", "value": -6}, "value": -3}, "labelPadding": 11}},
            "y": {"field": "ew", "type": "quantitative", "scale": {"domain": [0, 15.75], "nice": false, "zero": false},
              "axis": {"orient": "left", "title": "C III] EW (Å)", "values": [0,0.5,1,1.5,2,2.5,3,3.5,4,4.5,5,5.5,6,6.5,7,7.5,8,8.5,9,9.5,10,10.5,11,11.5,12,12.5,13,13.5,14,14.5,15,15.5], "labelExpr": "datum.value % 2 === 0 ? format(datum.value, 'd') : ''", "tickSize": {"condition": {"test": "datum.value % 2 === 0", "value": -6}, "value": -3}, "labelPadding": 11, "labelFlush": true}},
            "color": {"field": "U", "type": "nominal", "scale": {"domain": [-1, -2, -3, -4], "range": ["#ff0000", "#33dd00", "#1a8cff", "#000000"]},
              "legend": {"orient": "none", "legendX": 56, "legendY": 11, "title": null, "labelExpr": "'log(U) =\u00a0 ' + replace(datum.label, '-', '−')", "symbolType": "M -2 0 L 2 0", "symbolSize": 64, "symbolStrokeWidth": 1.5, "symbolOffset": 20, "labelOffset": 23, "labelFontSize": 13, "strokeColor": "black", "fillColor": "white", "padding": 5, "rowPadding": 1}},
            "strokeDash": {"field": "nH", "type": "nominal", "scale": {"domain": [1, 2, 3, 4], "range": [[1, 0], [1.5, 2.5], [6, 4], [6, 3, 1.5, 3]]}, "legend": null}
          }
        },
        {
          "mark": {"type": "point", "opacity": 0},
          "encoding": {
            "x": {"field": "age", "type": "quantitative", "scale": {"domain": [1, 10], "nice": false, "zero": false},
              "axis": {"orient": "top", "title": null, "labels": false, "values": [1,1.5,2,2.5,3,3.5,4,4.5,5,5.5,6,6.5,7,7.5,8,8.5,9,9.5,10], "tickSize": {"condition": {"test": "datum.value % 2 === 0", "value": -6}, "value": -3}}},
            "y": {"field": "ew", "type": "quantitative", "scale": {"domain": [0, 15.75], "nice": false, "zero": false},
              "axis": {"orient": "right", "title": null, "labels": false, "values": [0,0.5,1,1.5,2,2.5,3,3.5,4,4.5,5,5.5,6,6.5,7,7.5,8,8.5,9,9.5,10,10.5,11,11.5,12,12.5,13,13.5,14,14.5,15,15.5], "tickSize": {"condition": {"test": "datum.value % 2 === 0", "value": -6}, "value": -3}}}
          }
        }
      ],
      "resolve": {"axis": {"x": "independent", "y": "independent"}}
    },
    {
      "width": 211, "height": 217,
      "title": {"text": "Z = 0.004"},
      "data": {"name": "b2"},
      "layer": [
        {
          "mark": {"type": "line", "strokeWidth": 1.1},
          "encoding": {
            "x": {"field": "age", "type": "quantitative", "scale": {"domain": [1, 10], "nice": false, "zero": false},
              "axis": {"orient": "bottom", "title": "Age (Myr)", "values": [1,1.5,2,2.5,3,3.5,4,4.5,5,5.5,6,6.5,7,7.5,8,8.5,9,9.5,10], "labelExpr": "datum.value % 2 === 0 ? format(datum.value, 'd') : ''", "tickSize": {"condition": {"test": "datum.value % 2 === 0", "value": -6}, "value": -3}, "labelPadding": 11}},
            "y": {"field": "ew", "type": "quantitative", "scale": {"domain": [0, 9.86], "nice": false, "zero": false},
              "axis": {"orient": "left", "title": "C III] EW (Å)", "values": [0,0.5,1,1.5,2,2.5,3,3.5,4,4.5,5,5.5,6,6.5,7,7.5,8,8.5,9,9.5], "labelExpr": "datum.value % 2 === 0 ? format(datum.value, 'd') : ''", "tickSize": {"condition": {"test": "datum.value % 2 === 0", "value": -6}, "value": -3}, "labelPadding": 11, "labelFlush": true}},
            "color": {"field": "U", "type": "nominal", "scale": {"domain": [-1, -2, -3, -4], "range": ["#ff0000", "#33dd00", "#1a8cff", "#000000"]}, "legend": null},
            "strokeDash": {"field": "nH", "type": "nominal", "scale": {"domain": [1, 2, 3, 4], "range": [[1, 0], [1.5, 2.5], [6, 4], [6, 3, 1.5, 3]]}, "legend": null}
          }
        },
        {
          "mark": {"type": "point", "opacity": 0},
          "encoding": {
            "x": {"field": "age", "type": "quantitative", "scale": {"domain": [1, 10], "nice": false, "zero": false},
              "axis": {"orient": "top", "title": null, "labels": false, "values": [1,1.5,2,2.5,3,3.5,4,4.5,5,5.5,6,6.5,7,7.5,8,8.5,9,9.5,10], "tickSize": {"condition": {"test": "datum.value % 2 === 0", "value": -6}, "value": -3}}},
            "y": {"field": "ew", "type": "quantitative", "scale": {"domain": [0, 9.86], "nice": false, "zero": false},
              "axis": {"orient": "right", "title": null, "labels": false, "values": [0,0.5,1,1.5,2,2.5,3,3.5,4,4.5,5,5.5,6,6.5,7,7.5,8,8.5,9,9.5], "tickSize": {"condition": {"test": "datum.value % 2 === 0", "value": -6}, "value": -3}}}
          }
        }
      ],
      "resolve": {"axis": {"x": "independent", "y": "independent"}}
    },
    {
      "width": 211, "height": 217,
      "title": {"text": "Z = 0.008"},
      "data": {"name": "b3"},
      "layer": [
        {
          "mark": {"type": "line", "strokeWidth": 1.1},
          "encoding": {
            "x": {"field": "age", "type": "quantitative", "scale": {"domain": [1, 10], "nice": false, "zero": false},
              "axis": {"orient": "bottom", "title": "Age (Myr)", "values": [1,1.5,2,2.5,3,3.5,4,4.5,5,5.5,6,6.5,7,7.5,8,8.5,9,9.5,10], "labelExpr": "datum.value % 2 === 0 ? format(datum.value, 'd') : ''", "tickSize": {"condition": {"test": "datum.value % 2 === 0", "value": -6}, "value": -3}, "labelPadding": 11}},
            "y": {"field": "ew", "type": "quantitative", "scale": {"domain": [0, 4.9], "nice": false, "zero": false},
              "axis": {"orient": "left", "title": "C III] EW (Å)", "values": [0,0.25,0.5,0.75,1,1.25,1.5,1.75,2,2.25,2.5,2.75,3,3.25,3.5,3.75,4,4.25,4.5,4.75], "labelExpr": "datum.value % 1 === 0 ? format(datum.value, 'd') : ''", "tickSize": {"condition": {"test": "datum.value % 1 === 0", "value": -6}, "value": -3}, "labelPadding": 11, "labelFlush": true}},
            "color": {"field": "U", "type": "nominal", "scale": {"domain": [-1, -2, -3, -4], "range": ["#ff0000", "#33dd00", "#1a8cff", "#000000"]}, "legend": null},
            "strokeDash": {"field": "nH", "type": "nominal", "scale": {"domain": [1, 2, 3, 4], "range": [[1, 0], [1.5, 2.5], [6, 4], [6, 3, 1.5, 3]]}, "legend": null}
          }
        },
        {
          "mark": {"type": "point", "opacity": 0},
          "encoding": {
            "x": {"field": "age", "type": "quantitative", "scale": {"domain": [1, 10], "nice": false, "zero": false},
              "axis": {"orient": "top", "title": null, "labels": false, "values": [1,1.5,2,2.5,3,3.5,4,4.5,5,5.5,6,6.5,7,7.5,8,8.5,9,9.5,10], "tickSize": {"condition": {"test": "datum.value % 2 === 0", "value": -6}, "value": -3}}},
            "y": {"field": "ew", "type": "quantitative", "scale": {"domain": [0, 4.9], "nice": false, "zero": false},
              "axis": {"orient": "right", "title": null, "labels": false, "values": [0,0.25,0.5,0.75,1,1.25,1.5,1.75,2,2.25,2.5,2.75,3,3.25,3.5,3.75,4,4.25,4.5,4.75], "tickSize": {"condition": {"test": "datum.value % 1 === 0", "value": -6}, "value": -3}}}
          }
        }
      ],
      "resolve": {"axis": {"x": "independent", "y": "independent"}}
    },
    {
      "width": 211, "height": 217,
      "title": {"text": ["Padova, Continuous SF", "Z = 0.0004"]},
      "data": {"name": "c1"},
      "layer": [
        {
          "mark": {"type": "line", "strokeWidth": 1.1},
          "encoding": {
            "x": {"field": "age", "type": "quantitative", "scale": {"domain": [1, 100], "nice": false, "zero": false},
              "axis": {"orient": "bottom", "title": "Age (Myr)", "values": [5,10,15,20,25,30,35,40,45,50,55,60,65,70,75,80,85,90,95,100], "labelExpr": "datum.value % 20 === 0 ? format(datum.value, 'd') : ''", "tickSize": {"condition": {"test": "datum.value % 20 === 0", "value": -6}, "value": -3}, "labelPadding": 11}},
            "y": {"field": "ew", "type": "quantitative", "scale": {"domain": [0, 15.6], "nice": false, "zero": false},
              "axis": {"orient": "left", "title": "C III] EW (Å)", "values": [0,0.5,1,1.5,2,2.5,3,3.5,4,4.5,5,5.5,6,6.5,7,7.5,8,8.5,9,9.5,10,10.5,11,11.5,12,12.5,13,13.5,14,14.5,15,15.5], "labelExpr": "datum.value % 2 === 0 ? format(datum.value, 'd') : ''", "tickSize": {"condition": {"test": "datum.value % 2 === 0", "value": -6}, "value": -3}, "labelPadding": 11, "labelFlush": true}},
            "color": {"field": "U", "type": "nominal", "scale": {"domain": [-1, -2, -3, -4], "range": ["#ff0000", "#33dd00", "#1a8cff", "#000000"]}, "legend": null},
            "strokeDash": {"field": "nH", "type": "nominal", "scale": {"domain": [1, 2, 3, 4], "range": [[1, 0], [1.5, 2.5], [6, 4], [6, 3, 1.5, 3]]},
              "legend": {"orient": "none", "legendX": 165, "legendY": 17, "title": null, "labelExpr": "''", "symbolType": "M -2 0 L 2 0", "symbolSize": 64, "symbolStrokeWidth": 1.2, "symbolStrokeColor": "black", "labelFontSize": 13, "padding": 0, "rowPadding": 0}}
          }
        },
        {
          "mark": {"type": "point", "opacity": 0},
          "encoding": {
            "x": {"field": "age", "type": "quantitative", "scale": {"domain": [1, 100], "nice": false, "zero": false},
              "axis": {"orient": "top", "title": null, "labels": false, "values": [5,10,15,20,25,30,35,40,45,50,55,60,65,70,75,80,85,90,95,100], "tickSize": {"condition": {"test": "datum.value % 20 === 0", "value": -6}, "value": -3}}},
            "y": {"field": "ew", "type": "quantitative", "scale": {"domain": [0, 15.6], "nice": false, "zero": false},
              "axis": {"orient": "right", "title": null, "labels": false, "values": [0,0.5,1,1.5,2,2.5,3,3.5,4,4.5,5,5.5,6,6.5,7,7.5,8,8.5,9,9.5,10,10.5,11,11.5,12,12.5,13,13.5,14,14.5,15,15.5], "tickSize": {"condition": {"test": "datum.value % 2 === 0", "value": -6}, "value": -3}}},
            "shape": {"field": "nH", "type": "nominal", "scale": {"domain": ["1", "2", "3", "4"]},
              "legend": {"orient": "none", "legendX": 67, "legendY": 12, "title": null, "labelExpr": "'log(nH)\u00a0 = \u00a0' + datum.label + '\u00a0\u00a0\u00a0\u00a0\u00a0\u00a0\u00a0\u00a0\u00a0\u00a0\u00a0\u00a0\u00a0'", "symbolOpacity": 0, "symbolSize": 4, "labelOffset": -8, "labelFontSize": 13, "strokeColor": "black", "padding": 5, "rowPadding": 0}}
          }
        }
      ],
      "resolve": {"axis": {"x": "independent", "y": "independent"}}
    },
    {
      "width": 211, "height": 217,
      "title": {"text": "Z = 0.004"},
      "data": {"name": "c2"},
      "layer": [
        {
          "mark": {"type": "line", "strokeWidth": 1.1},
          "encoding": {
            "x": {"field": "age", "type": "quantitative", "scale": {"domain": [1, 100], "nice": false, "zero": false},
              "axis": {"orient": "bottom", "title": "Age (Myr)", "values": [5,10,15,20,25,30,35,40,45,50,55,60,65,70,75,80,85,90,95,100], "labelExpr": "datum.value % 20 === 0 ? format(datum.value, 'd') : ''", "tickSize": {"condition": {"test": "datum.value % 20 === 0", "value": -6}, "value": -3}, "labelPadding": 11}},
            "y": {"field": "ew", "type": "quantitative", "scale": {"domain": [0, 9.86], "nice": false, "zero": false},
              "axis": {"orient": "left", "title": "C III] EW (Å)", "values": [0,0.5,1,1.5,2,2.5,3,3.5,4,4.5,5,5.5,6,6.5,7,7.5,8,8.5,9,9.5], "labelExpr": "datum.value % 2 === 0 ? format(datum.value, 'd') : ''", "tickSize": {"condition": {"test": "datum.value % 2 === 0", "value": -6}, "value": -3}, "labelPadding": 11, "labelFlush": true}},
            "color": {"field": "U", "type": "nominal", "scale": {"domain": [-1, -2, -3, -4], "range": ["#ff0000", "#33dd00", "#1a8cff", "#000000"]}, "legend": null},
            "strokeDash": {"field": "nH", "type": "nominal", "scale": {"domain": [1, 2, 3, 4], "range": [[1, 0], [1.5, 2.5], [6, 4], [6, 3, 1.5, 3]]}, "legend": null}
          }
        },
        {
          "mark": {"type": "point", "opacity": 0},
          "encoding": {
            "x": {"field": "age", "type": "quantitative", "scale": {"domain": [1, 100], "nice": false, "zero": false},
              "axis": {"orient": "top", "title": null, "labels": false, "values": [5,10,15,20,25,30,35,40,45,50,55,60,65,70,75,80,85,90,95,100], "tickSize": {"condition": {"test": "datum.value % 20 === 0", "value": -6}, "value": -3}}},
            "y": {"field": "ew", "type": "quantitative", "scale": {"domain": [0, 9.86], "nice": false, "zero": false},
              "axis": {"orient": "right", "title": null, "labels": false, "values": [0,0.5,1,1.5,2,2.5,3,3.5,4,4.5,5,5.5,6,6.5,7,7.5,8,8.5,9,9.5], "tickSize": {"condition": {"test": "datum.value % 2 === 0", "value": -6}, "value": -3}}}
          }
        }
      ],
      "resolve": {"axis": {"x": "independent", "y": "independent"}}
    },
    {
      "width": 211, "height": 217,
      "title": {"text": "Z = 0.008"},
      "data": {"name": "c3"},
      "layer": [
        {
          "mark": {"type": "line", "strokeWidth": 1.1},
          "encoding": {
            "x": {"field": "age", "type": "quantitative", "scale": {"domain": [1, 100], "nice": false, "zero": false},
              "axis": {"orient": "bottom", "title": "Age (Myr)", "values": [5,10,15,20,25,30,35,40,45,50,55,60,65,70,75,80,85,90,95,100], "labelExpr": "datum.value % 20 === 0 ? format(datum.value, 'd') : ''", "tickSize": {"condition": {"test": "datum.value % 20 === 0", "value": -6}, "value": -3}, "labelPadding": 11}},
            "y": {"field": "ew", "type": "quantitative", "scale": {"domain": [0, 4.9], "nice": false, "zero": false},
              "axis": {"orient": "left", "title": "C III] EW (Å)", "values": [0,0.25,0.5,0.75,1,1.25,1.5,1.75,2,2.25,2.5,2.75,3,3.25,3.5,3.75,4,4.25,4.5,4.75], "labelExpr": "datum.value % 1 === 0 ? format(datum.value, 'd') : ''", "tickSize": {"condition": {"test": "datum.value % 1 === 0", "value": -6}, "value": -3}, "labelPadding": 11, "labelFlush": true}},
            "color": {"field": "U", "type": "nominal", "scale": {"domain": [-1, -2, -3, -4], "range": ["#ff0000", "#33dd00", "#1a8cff", "#000000"]}, "legend": null},
            "strokeDash": {"field": "nH", "type": "nominal", "scale": {"domain": [1, 2, 3, 4], "range": [[1, 0], [1.5, 2.5], [6, 4], [6, 3, 1.5, 3]]}, "legend": null}
          }
        },
        {
          "mark": {"type": "point", "opacity": 0},
          "encoding": {
            "x": {"field": "age", "type": "quantitative", "scale": {"domain": [1, 100], "nice": false, "zero": false},
              "axis": {"orient": "top", "title": null, "labels": false, "values": [5,10,15,20,25,30,35,40,45,50,55,60,65,70,75,80,85,90,95,100], "tickSize": {"condition": {"test": "datum.value % 20 === 0", "value": -6}, "value": -3}}},
            "y": {"field": "ew", "type": "quantitative", "scale": {"domain": [0, 4.9], "nice": false, "zero": false},
              "axis": {"orient": "right", "title": null, "labels": false, "values": [0,0.25,0.5,0.75,1,1.25,1.5,1.75,2,2.25,2.5,2.75,3,3.25,3.5,3.75,4,4.25,4.5,4.75], "tickSize": {"condition": {"test": "datum.value % 1 === 0", "value": -6}, "value": -3}}}
          }
        }
      ],
      "resolve": {"axis": {"x": "independent", "y": "independent"}}
    }
  ],
  "config": {
    "font": "Liberation Sans",
    "view": {"stroke": "black", "strokeWidth": 1},
    "axis": {"grid": false, "domain": false, "labelFont": "Liberation Sans", "labelFontSize": 11, "labelColor": "black", "titleFont": "Liberation Sans", "titleFontSize": 10, "titleFontWeight": "normal", "titleColor": "black", "titlePadding": 1, "tickColor": "black", "tickWidth": 1, "labelOverlap": false, "labelBound": false, "labelFlush": false},
    "title": {"font": "Liberation Sans", "fontSize": 13, "fontWeight": "normal", "color": "black", "offset": -1, "lineHeight": 14},
    "legend": {"labelFont": "Liberation Sans", "labelColor": "black"}
  }
}
